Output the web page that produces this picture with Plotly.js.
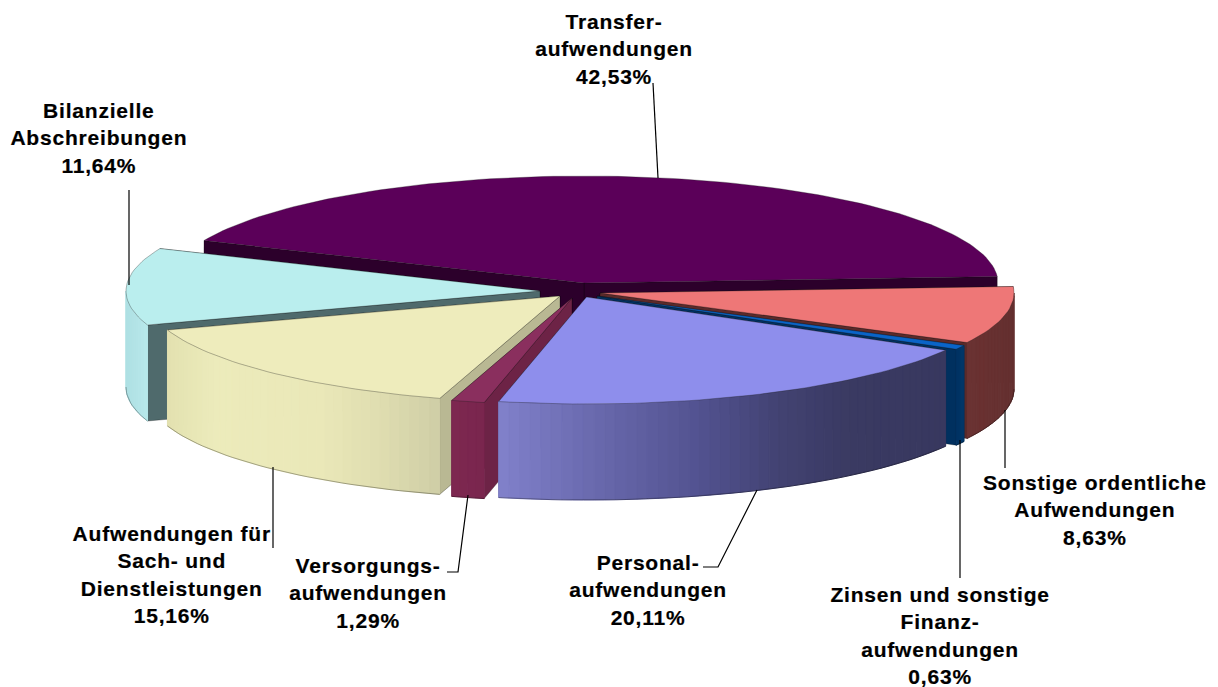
<!DOCTYPE html>
<html><head><meta charset="utf-8">
<script src="https://cdn.plot.ly/plotly-3.0.1.min.js"></script>
<style>
html,body{margin:0;padding:0;background:#fff}
#c{width:1218px;height:687px}
.annotation text{letter-spacing:0.8px;stroke:#000;stroke-width:0.2px}
</style></head><body><div id="c"></div>
<script>
// ---- data (counter-clockwise from the right-hand side of the pie) ----
var sliceNames = ['Transfer-<br>aufwendungen','Bilanzielle<br>Abschreibungen','Aufwendungen für<br>Sach- und<br>Dienstleistungen','Versorgungs-<br>aufwendungen','Personal-<br>aufwendungen','Zinsen und sonstige<br>Finanz-<br>aufwendungen','Sonstige ordentliche<br>Aufwendungen'];
var sliceValues = [42.53,11.64,15.16,1.29,20.11,0.63,8.63];
var valueLabels = ['42,53%','11,64%','15,16%','1,29%','20,11%','0,63%','8,63%'];

// ---- look ----
var RX=414, RY=107, DEPTH=96, START=3.5;
var hub=[[584,283],[540,291],[560,296],[572,298],[586.5,297],[597,296],[600,293]];
var topCol=['#5b0059','#baeeee','#eeecbc','#8a2f5e','#8e8eec','#0a64c8','#ee7777'];
var cutCol=['#2c002b','#4f6a6c','#b9b893','#6d2346','#45457a','#00305f','#5a2a2a'];
var wallStops=[
 [[0,'#2c002b'],[1,'#2c002b']],
 [[127,'#aee0e3'],[147,'#b8e8ea']],
 [[168,'#e3e1b0'],[215,'#ecebbb'],[320,'#eae8b8'],[380,'#dfddb0'],[440,'#cfcea6']],
 [[451,'#7e2750'],[483,'#7a264e']],
 [[498,'#8181cb'],[600,'#6868ac'],[700,'#525290'],[780,'#424272'],[850,'#3a3a62'],[950,'#38385f']],
 [[955,'#00305f'],[965,'#01386c']],
 [[965,'#6b3232'],[1015,'#643030']]
];
var labelPos=[[614,48.5],[99,138],[171,574.5],[368,592.5],[648,589.5],[940,635.5],[1095,510]];
var leaders=[
 [[653,83],[658,178]],
 [[129,190],[129,285]],
 [[273,467],[273,548]],
 [[468,495],[458,572],[447,572]],
 [[757,490],[718,567],[703,567]],
 [[960,440],[960,578]],
 [[1005,410],[1005,468]]
];
function hex(c){return [1,3,5].map(function(i){return parseInt(c.substr(i,2),16)})}
function colorAt(stops,x){
  if(x<=stops[0][0])return stops[0][1];
  for(var i=1;i<stops.length;i++){ if(x<=stops[i][0]){
    var t=(x-stops[i-1][0])/(stops[i][0]-stops[i-1][0]),a=hex(stops[i-1][1]),b=hex(stops[i][1]);
    return 'rgb('+a.map(function(v,k){return Math.round(v+(b[k]-v)*t)}).join(',')+')';}}
  return stops[stops.length-1][1];
}
function pt(h,deg,dz){var r=deg*Math.PI/180;return [h[0]+RX*Math.cos(r),h[1]-RY*Math.sin(r)+(dz||0)]}
var traces=[];
function poly(pts,fill,lineCol,w){
  traces.push({type:'scatter',mode:'lines',fill:'toself',fillcolor:fill,
    x:pts.map(function(p){return p[0]}).concat([pts[0][0]]),
    y:pts.map(function(p){return p[1]}).concat([pts[0][1]]),
    line:{color:lineCol||fill,width:w===undefined?0.6:w},hoverinfo:'skip',showlegend:false});
}
function cut(i,deg){
  var h=hub[i],o=pt(h,deg);
  poly([h,o,[o[0],o[1]+DEPTH],[h[0],h[1]+DEPTH]],cutCol[i],'rgba(0,0,0,0.45)',0.6);
}
var total=sliceValues.reduce(function(a,b){return a+b},0),ang=START;
var spans=sliceValues.map(function(v){var a=ang,b=ang+v/total*360;ang=b;return [a,b]});
var order=[0,1,2,6,5,3,4];
order.forEach(function(i){
  var a=spans[i][0],b=spans[i][1],h=hub[i];
  var startVisible=Math.sin((a-90)*Math.PI/180)<0, endVisible=Math.sin((b+90)*Math.PI/180)<0;
  if(!startVisible)cut(i,a);
  if(!endVisible)cut(i,b);
  if(startVisible)cut(i,a);
  if(endVisible)cut(i,b);
  // outer wall: only the front half is visible
  var w0=Math.max(a,180),w1=Math.min(b,360);
  if(w1>w0){
    var steps=Math.max(2,Math.ceil((w1-w0)/1.5)),rim=[];
    for(var s=0;s<steps;s++){
      var d0=w0+(w1-w0)*s/steps,d1=w0+(w1-w0)*(s+1)/steps;
      var p0=pt(h,d0),p1=pt(h,d1);
      var col=colorAt(wallStops[i],(p0[0]+p1[0])/2);
      poly([p0,p1,[p1[0],p1[1]+DEPTH],[p0[0],p0[1]+DEPTH]],col,col,1);
      rim.push(pt(h,d0,DEPTH));
      if(s===steps-1)rim.push(pt(h,d1,DEPTH));
    }
    traces.push({type:'scatter',mode:'lines',x:rim.map(function(p){return p[0]}),y:rim.map(function(p){return p[1]}),
      line:{color:'rgba(0,0,0,0.45)',width:0.7},hoverinfo:'skip',showlegend:false});
  }
  // top face
  var top=[h],n=Math.max(4,Math.ceil((b-a)/1.5));
  for(var k=0;k<=n;k++)top.push(pt(h,a+(b-a)*k/n));
  poly(top,topCol[i],'rgba(30,30,30,0.45)',0.7);
});
leaders.forEach(function(l){
  traces.push({type:'scatter',mode:'lines',x:l.map(function(p){return p[0]}),y:l.map(function(p){return p[1]}),
    line:{color:'#000',width:1.2},hoverinfo:'skip',showlegend:false});
});
var annotations=sliceNames.map(function(n,i){
  return {xref:'x',yref:'y',x:labelPos[i][0],y:labelPos[i][1],text:n+'<br>'+valueLabels[i],showarrow:false,
    xanchor:'center',yanchor:'middle',align:'center',
    font:{family:'"Liberation Sans",Arial,sans-serif',size:21,color:'#000',weight:700}};
});
Plotly.newPlot('c',traces,{
  width:1218,height:687,margin:{l:0,r:0,t:0,b:0},paper_bgcolor:'#fff',plot_bgcolor:'#fff',showlegend:false,
  xaxis:{range:[0,1218],visible:false,fixedrange:true},
  yaxis:{range:[687,0],visible:false,fixedrange:true},
  annotations:annotations
},{displayModeBar:false,staticPlot:true});
</script></body></html>
